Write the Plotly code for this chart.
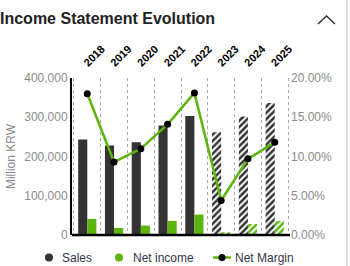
import plotly.graph_objects as go

years = ["2018", "2019", "2020", "2021", "2022", "2023", "2024", "2025"]
sales = [243000, 228000, 236000, 279000, 303000, 262000, 302000, 336000]
net_income = [41000, 18000, 24000, 36000, 52000, 7000, 28000, 36000]
net_margin = [18.0, 9.3, 11.0, 14.1, 18.1, 4.4, 9.7, 11.8]
estimate = [False, False, False, False, False, True, True, True]
legend_labels = ["Sales", "Net income", "Net Margin"]

DARK = "#333333"
GREEN = "#5cb40c"
GRAY = "#8c8c8c"
TXT = "#353545"

act_years = [y for y, e in zip(years, estimate) if not e]
est_years = [y for y, e in zip(years, estimate) if e]
act_sales = [v for v, e in zip(sales, estimate) if not e]
est_sales = [v for v, e in zip(sales, estimate) if e]
act_ni = [v for v, e in zip(net_income, estimate) if not e]
est_ni = [v for v, e in zip(net_income, estimate) if e]

pat = dict(shape="/", bgcolor="#ffffff", size=4.5, solidity=0.55, fillmode="replace")

fig = go.Figure()
fig.add_trace(go.Bar(x=act_years, y=act_sales, name="Sales", showlegend=False,
                     offsetgroup="s", marker=dict(color=DARK, line=dict(width=0))))
fig.add_trace(go.Bar(x=est_years, y=est_sales, name="Sales", showlegend=False,
                     offsetgroup="s",
                     marker=dict(color="#ffffff", line=dict(width=0),
                                 pattern=dict(fgcolor=DARK, **pat))))
fig.add_trace(go.Bar(x=act_years, y=act_ni, name="Net income", showlegend=False,
                     offsetgroup="n", marker=dict(color=GREEN, line=dict(width=0))))
fig.add_trace(go.Bar(x=est_years, y=est_ni, name="Net income", showlegend=False,
                     offsetgroup="n",
                     marker=dict(color="#ffffff", line=dict(width=0),
                                 pattern=dict(fgcolor=GREEN, **pat))))
fig.add_trace(go.Scatter(
    x=years, y=net_margin, name="Net Margin", yaxis="y2", mode="lines+markers",
    line=dict(color=GREEN, width=2.5),
    marker=dict(color="black", size=7), showlegend=False,
))

H = 157.0
W = 218.0
def px(x):
    return (x - 72) / W
def py(y):
    return (235 - y) / H

fig.update_layout(
    width=350, height=266,
    margin=dict(l=72, r=60, t=78, b=31, autoexpand=False),
    paper_bgcolor="white", plot_bgcolor="white",
    barmode="group", bargap=0.32, bargroupgap=0,
    font=dict(family="Liberation Sans, Arial, sans-serif", color=GRAY, size=12),
    showlegend=False,
    xaxis=dict(
        side="top", type="category", tickangle=-45,
        categoryorder="array", categoryarray=years,
        tickfont=dict(size=11, color="black", family="Liberation Sans, Arial", weight="bold"),
        ticks="", tickson="boundaries", showgrid=True, griddash="dot",
        gridcolor="#a8a8a8", gridwidth=1, showline=False, zeroline=False,
        ticklabelstandoff=6, ticklabelshift=-3,
    ),
    yaxis=dict(
        range=[0, 400000], tickvals=[0, 100000, 200000, 300000, 400000],
        ticktext=["0", "100,000", "200,000", "300,000", "400,000"],
        showgrid=False, zeroline=False, showline=True, linecolor="black", linewidth=2,
        ticks="", tickfont=dict(size=12, color=GRAY),
        title=dict(text="Million KRW", font=dict(size=12, color=GRAY), standoff=6),
    ),
    yaxis2=dict(
        overlaying="y", side="right", range=[0, 20],
        tickvals=[0, 5, 10, 15, 20],
        ticktext=["0.00%", "5.00%", "10.00%", "15.00%", "20.00%"],
        showgrid=False, zeroline=False, showline=False, ticks="",
        tickfont=dict(size=12, color=GRAY),
    ),
)

fig.add_annotation(text="<b>Income Statement Evolution</b>", xref="paper", yref="paper",
                   x=px(-2), y=py(18), xanchor="left", yanchor="middle", showarrow=False,
                   font=dict(size=16, color="#222222", family="Liberation Sans, Arial"))

# bottom baseline
fig.add_shape(type="line", xref="paper", yref="paper", x0=0, x1=1, y0=0, y1=0,
              line=dict(color="black", width=2.5))
# chevron
fig.add_shape(type="path", xref="paper", yref="paper",
              path=f"M {px(318)} {py(24)} L {px(326.5)} {py(16)} L {px(335)} {py(24)}",
              line=dict(color="#333333", width=1.5))
# right border line
fig.add_shape(type="line", xref="paper", yref="paper", x0=px(347), x1=px(347),
              y0=py(266), y1=py(0), line=dict(color="#dddddd", width=2))

# manual legend
LY = 257.5
def circle(cx, cy, r, color):
    fig.add_shape(type="circle", xref="paper", yref="paper",
                  x0=px(cx - r), x1=px(cx + r), y0=py(cy + r), y1=py(cy - r),
                  fillcolor=color, line=dict(width=0))

circle(49, LY, 4, DARK)
circle(119, LY, 4, GREEN)
fig.add_shape(type="line", xref="paper", yref="paper", x0=px(213), x1=px(231),
              y0=py(LY), y1=py(LY), line=dict(color=GREEN, width=2.5))
circle(222, LY, 3.5, "black")
for lbl, xs in zip(legend_labels, [62, 133, 235]):
    fig.add_annotation(text=lbl, xref="paper", yref="paper", x=px(xs - 2), y=py(LY),
                       xanchor="left", yanchor="middle", showarrow=False,
                       font=dict(size=12, color=TXT, family="Liberation Sans, Arial"))

fig.write_html("out.html")
